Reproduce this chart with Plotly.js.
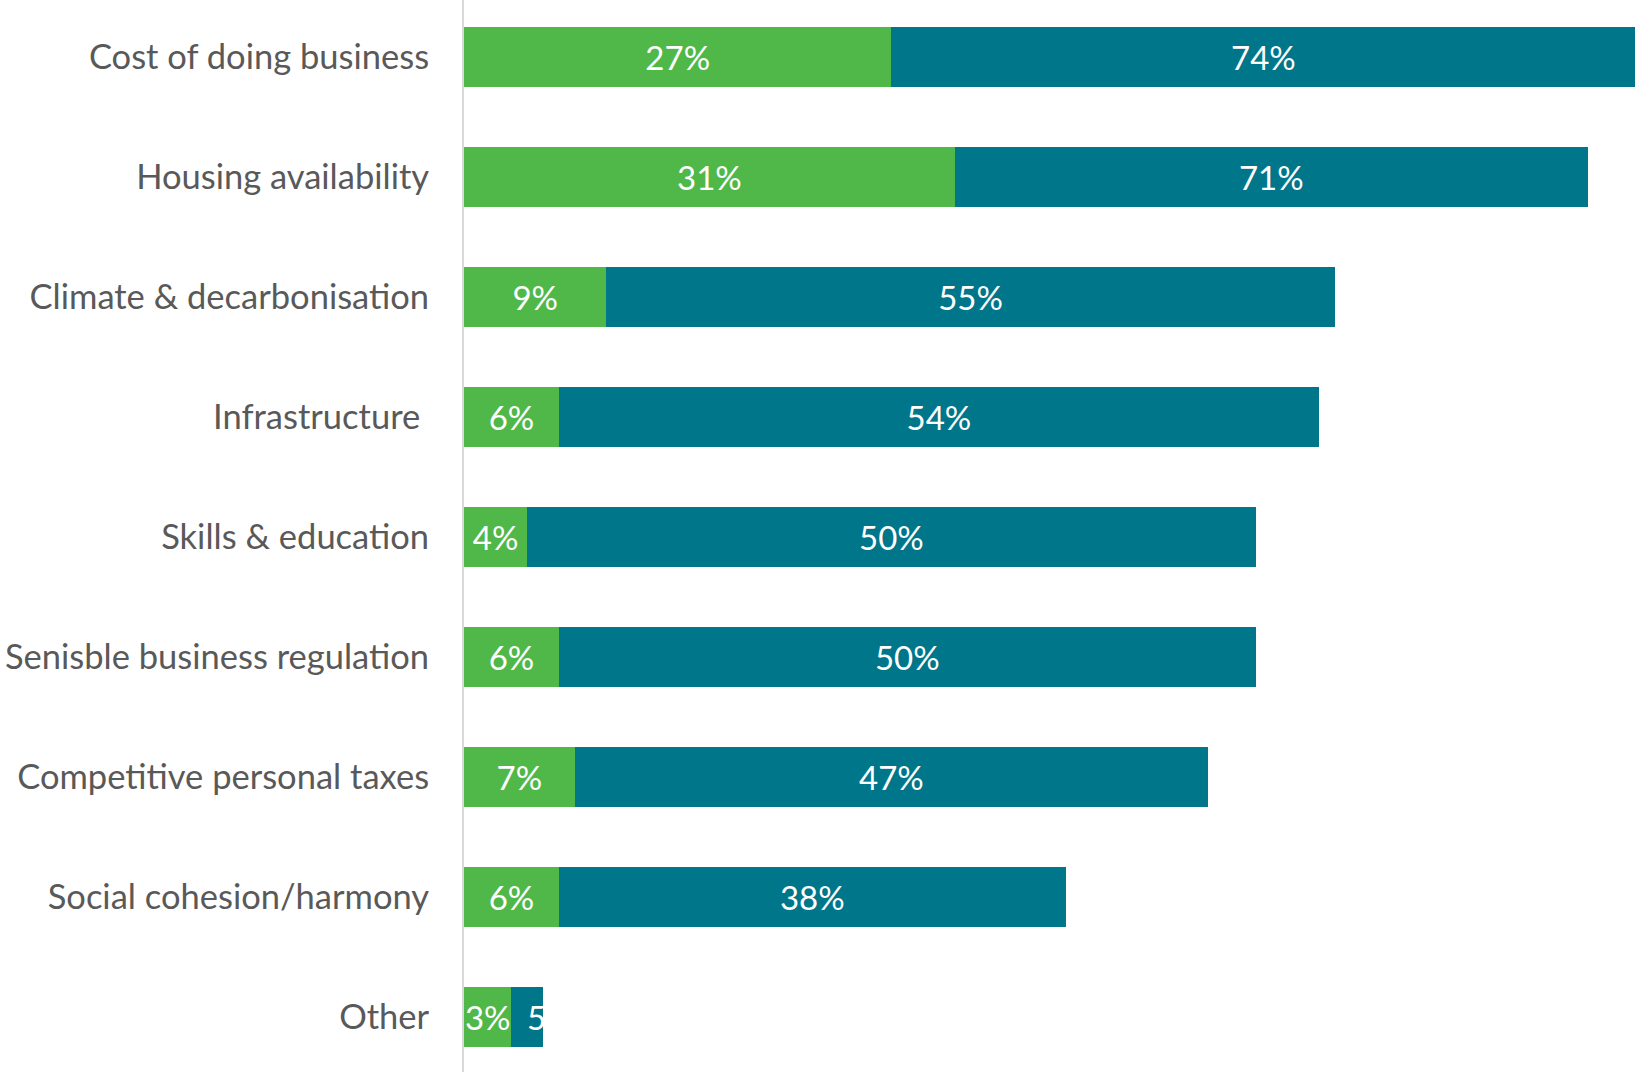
<!DOCTYPE html>
<html>
<head>
<meta charset="utf-8">
<script src="https://cdn.plot.ly/plotly-3.0.1.min.js"></script>
<style>html,body{margin:0;padding:0;background:#fff;}#chart{width:1637px;height:1072px;}</style>
</head>
<body>
<div id="chart"></div>
<script>
const categories = [
  "Cost of doing business",
  "Housing availability",
  "Climate & decarbonisation",
  "Infrastructure ",
  "Skills & education",
  "Senisble business regulation",
  "Competitive personal taxes",
  "Social cohesion/harmony",
  "Other"
];
const firstChoice = [27, 31, 9, 6, 4, 6, 7, 6, 3];
const totalMentions = [74, 71, 55, 54, 50, 50, 47, 38, 5];

const GREEN = "#50B848";
const TEAL = "#00768A";
const FONT = "Lato, 'Open Sans', sans-serif";

const remainder = totalMentions.map((t, i) => t - firstChoice[i]);
const tealText = totalMentions.map(t => t + "%");
const tealPos = totalMentions.map((t, i) => (remainder[i] < 4 ? "none" : "inside"));

const traces = [
  {
    type: "bar",
    orientation: "h",
    y: categories,
    x: firstChoice,
    marker: {color: GREEN},
    text: firstChoice.map(v => v + "%"),
    textposition: "inside",
    insidetextanchor: "middle",
    textangle: 0,
    constraintext: "none",
    textfont: {family: FONT, size: 33, color: "#ffffff"},
    hoverinfo: "none"
  },
  {
    type: "bar",
    orientation: "h",
    y: categories,
    x: remainder,
    marker: {color: TEAL},
    text: tealText,
    textposition: tealPos,
    insidetextanchor: "middle",
    textangle: 0,
    constraintext: "none",
    textfont: {family: FONT, size: 33, color: "#ffffff"},
    hoverinfo: "none"
  }
];

// label for the narrow "Other" teal segment (overflow is white on white, as in the original)
const annotations = [];
categories.forEach((c, i) => {
  if (tealPos[i] === "none") {
    annotations.push({
      x: firstChoice[i], y: c, xref: "x", yref: "y",
      text: tealText[i], showarrow: false, xanchor: "left", xshift: 14,
      font: {family: FONT, size: 33, color: "#ffffff"}
    });
  }
});

const layout = {
  width: 1637,
  height: 1072,
  margin: {l: 464, r: 0, t: 0, b: 0, pad: 0},
  barmode: "stack",
  bargap: 0.5,
  showlegend: false,
  paper_bgcolor: "#ffffff",
  plot_bgcolor: "#ffffff",
  xaxis: {range: [0, 74.1], visible: false, fixedrange: true},
  yaxis: {
    type: "category",
    categoryorder: "array",
    categoryarray: categories,
    range: [8.455, -0.478],
    showline: true,
    linecolor: "#D9D9D9",
    linewidth: 2,
    showgrid: false,
    zeroline: false,
    ticks: "",
    ticklabelstandoff: 26,
    automargin: false,
    tickfont: {family: FONT, size: 34.5, color: "#595959"},
    fixedrange: true
  },
  annotations: annotations
};

Plotly.newPlot("chart", traces, layout, {displayModeBar: false, staticPlot: true});
</script>
</body>
</html>
